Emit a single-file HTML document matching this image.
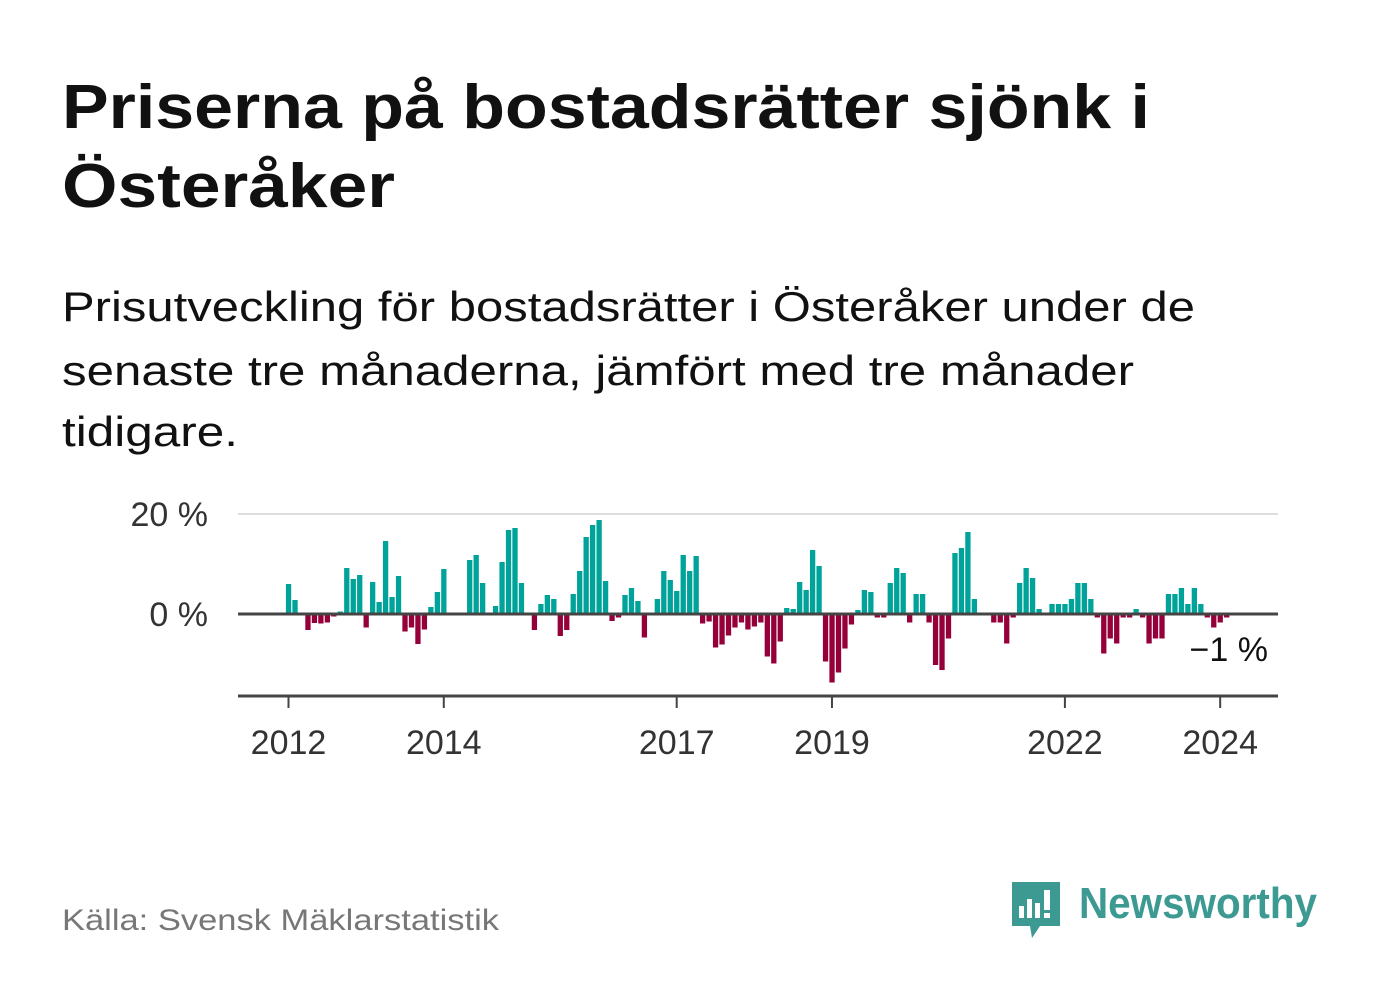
<!DOCTYPE html>
<html><head><meta charset="utf-8"><style>
html,body{margin:0;padding:0;background:#fff}
svg{display:block;font-family:"Liberation Sans",sans-serif}
</style></head><body>
<svg id="chart" width="1382" height="999" viewBox="0 0 1382 999" xmlns="http://www.w3.org/2000/svg">
<rect width="1382" height="999" fill="#fff"/>
<text x="62" y="128" font-size="62" font-weight="bold" fill="#111" textLength="1088" lengthAdjust="spacingAndGlyphs">Priserna på bostadsrätter sjönk i</text>
<text x="62" y="207" font-size="62" font-weight="bold" fill="#111" textLength="333" lengthAdjust="spacingAndGlyphs">Österåker</text>
<text x="62" y="321" font-size="42" fill="#111" textLength="1133" lengthAdjust="spacingAndGlyphs">Prisutveckling för bostadsrätter i Österåker under de</text>
<text x="62" y="385" font-size="42" fill="#111" textLength="1072" lengthAdjust="spacingAndGlyphs">senaste tre månaderna, jämfört med tre månader</text>
<text x="62" y="446" font-size="42" fill="#111" textLength="176" lengthAdjust="spacingAndGlyphs">tidigare.</text>
<g id="plot"></g>
<text x="62" y="930" font-size="30" fill="#777" textLength="437" lengthAdjust="spacingAndGlyphs">Källa: Svensk Mäklarstatistik</text>
<g>
<path d="M1012 882 h48 v44 h-20 l-8 12 l-2 -12 h-18 z" fill="#3d9a93"/>
<rect x="1019" y="906" width="5" height="12" fill="#fff"/>
<rect x="1027" y="899" width="5" height="19" fill="#fff"/>
<rect x="1035" y="903" width="5" height="15" fill="#fff"/>
<rect x="1044" y="890" width="6" height="20" fill="#fff"/>
<rect x="1044" y="913" width="6" height="5" fill="#fff"/>
<text x="1079" y="918" font-size="44" font-weight="bold" fill="#3d9a93" textLength="238" lengthAdjust="spacingAndGlyphs">Newsworthy</text>
</g>
</svg>
<script>
const values = [6,2.8,0,-3.2,-1.8,-1.9,-1.7,-0.5,0.5,9.2,7,7.8,-2.7,6.4,2.4,14.6,3.4,7.6,-3.5,-2.7,-6,-3.1,1.4,4.4,9,0,0,0,10.8,11.8,6.2,0,1.6,10.4,16.8,17.2,6.2,0,-3.2,2,3.8,3,-4.4,-3.2,4,8.6,15.4,17.8,18.8,6.6,-1.4,-0.7,3.8,5.2,2.6,-4.7,0,3,8.6,6.8,4.6,11.8,8.6,11.6,-1.9,-1.5,-6.7,-6.1,-4.3,-2.7,-1.7,-3.1,-2.5,-1.7,-8.5,-9.9,-5.5,1.2,1,6.4,4.8,12.8,9.6,-9.5,-13.7,-11.7,-6.9,-2.1,0.8,4.8,4.4,-0.7,-0.7,6.2,9.2,8.2,-1.7,4,4,-1.7,-10.2,-11.2,-4.9,12.2,13.2,16.4,3,0,0,-1.7,-1.7,-5.9,-0.7,6.2,9.2,7.2,1,0,2,2,2,3,6.2,6.2,3,-0.7,-7.9,-4.9,-5.9,-0.7,-0.7,1,-0.7,-5.9,-4.9,-4.9,4,4,5.2,2,5.2,2,-0.7,-2.7,-1.7,-0.7];
const startYear = 2012;
const yTicks = [0,20];
const yTickLabels = ["0 %","20 %"];
const xTickYears = [2012,2014,2017,2019,2022,2024];
const lastLabel = "−1 %";

const NS="http://www.w3.org/2000/svg";
const g=document.getElementById('plot');
const x0=288.5, monthW=6.47;
function xScale(m){return x0+m*monthW;}
function yScale(v){return 614-v*5;}
function el(tag,attrs){const e=document.createElementNS(NS,tag);for(const k in attrs)e.setAttribute(k,attrs[k]);g.appendChild(e);return e;}

yTicks.forEach((t,i)=>{
  if(t!==0){const l=el('line',{x1:238,x2:1278,y1:yScale(t),y2:yScale(t),stroke:'#ddd','stroke-width':2});
  
  }
  const tx=el('text',{x:208,y:yScale(t)+12,'font-size':34,fill:'#333','text-anchor':'end'});
  tx.textContent=yTickLabels[i];
  
  
});
values.forEach((v,i)=>{
  if(v===0)return;
  const y=v>0?yScale(v):yScale(0);
  const r=el('rect',{x:xScale(i)-2.6,y:y,width:5.3,height:Math.abs(yScale(v)-yScale(0)),fill:v>0?'#00a39a':'#95003a'});
  
  
});
const z=el('line',{x1:238,x2:1278,y1:yScale(0),y2:yScale(0),stroke:'#444','stroke-width':3});


const ax=el('line',{x1:238,x2:1278,y1:696,y2:696,stroke:'#444','stroke-width':3});


xTickYears.forEach(yr=>{
  const xx=xScale((yr-startYear)*12);
  const tk=el('line',{x1:xx,x2:xx,y1:696,y2:708,stroke:'#444','stroke-width':2});
  
  
  const t=el('text',{x:xx,y:754,'font-size':34,fill:'#333','text-anchor':'middle'});
  t.textContent=yr;
  
  
});
const lv=el('text',{x:1268,y:661,'font-size':34,fill:'#111','text-anchor':'end'});
lv.textContent=lastLabel;


</script>
</body></html>
